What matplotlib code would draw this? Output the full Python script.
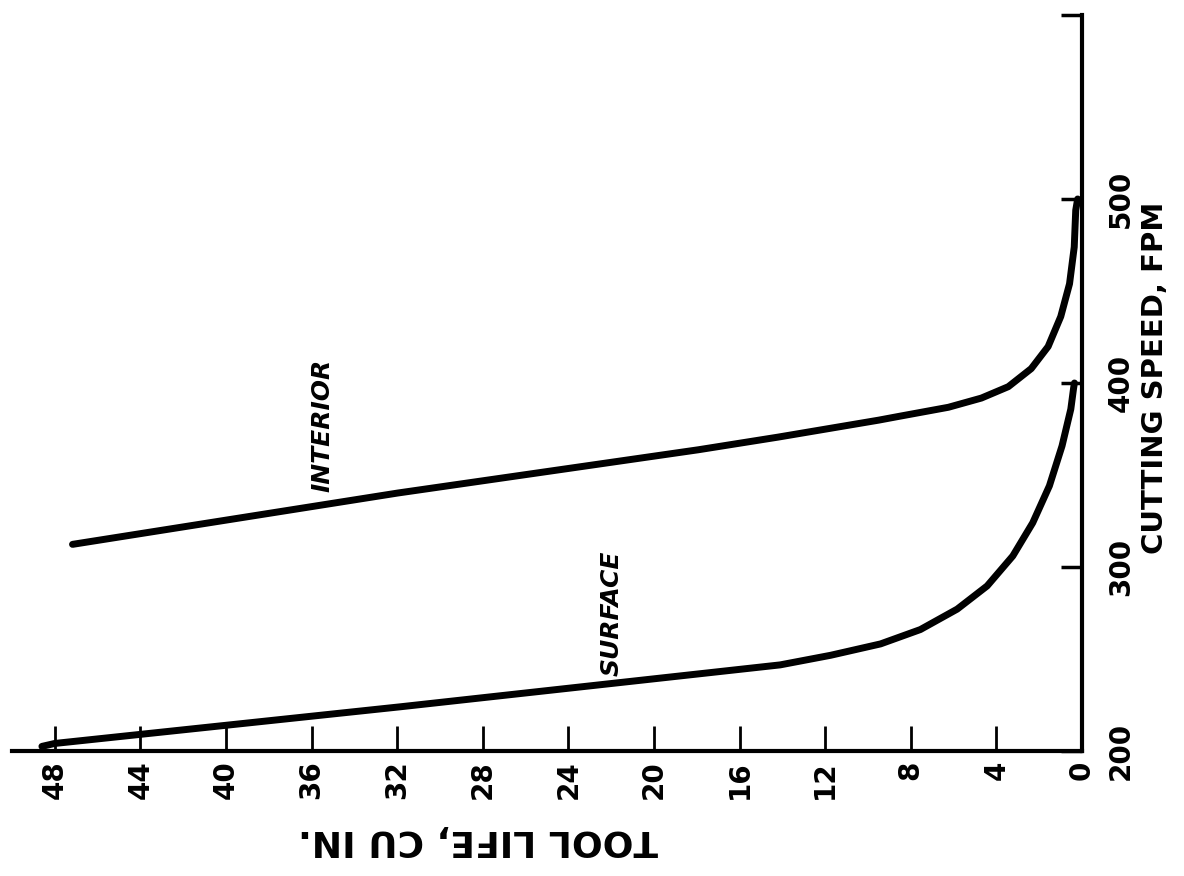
"""
Tool life vs cutting speed, surface and interior material.
Drawn turned on its side: tool life runs right-to-left along the bottom,
cutting speed runs up the right-hand side.
"""

import matplotlib.pyplot as plt

# Tool life (cu in.) and cutting speed (fpm)
surface_life = [48.6, 48.0, 31.87, 17.84, 14.1, 11.75, 9.41, 7.55, 5.83, 4.43,
                3.23, 2.30, 1.52, 0.93, 0.52, 0.39, 0.35]
surface_speed = [202.5, 204.1, 224, 242, 246.8, 252, 258.2, 266, 277.1, 289.7,
                 306, 324, 344.1, 365.8, 385.8, 397.2, 400]

interior_life = [47.17, 31.97, 17.93, 14.19, 9.5, 8.58, 6.24, 4.7, 3.44, 2.37,
                 1.58, 0.99, 0.58, 0.36, 0.29, 0.2]
interior_speed = [312.3, 340.2, 363.7, 370.6, 379.8, 381.8, 386.8, 391.8, 398,
                  407.8, 419.8, 436.1, 453.9, 473.9, 493.9, 500]

life_ticks = [0, 4, 8, 12, 16, 20, 24, 28, 32, 36, 40, 44, 48]
speed_ticks = [200, 300, 400, 500, 600]
speed_tick_labels = ['200', '300', '400', '500', '']


def main():
    fig = plt.figure(figsize=(11.84, 8.76), dpi=100)
    ax = fig.add_axes([0.0101, 0.1427, 0.9037, 0.8402])

    ax.plot(surface_life, surface_speed, color='black', linewidth=5,
            solid_capstyle='round', solid_joinstyle='round')
    ax.plot(interior_life, interior_speed, color='black', linewidth=5,
            solid_capstyle='round', solid_joinstyle='round')

    # curve names, written along the speed direction
    ax.text(35.5, 377, 'INTERIOR', rotation=90, ha='center', va='center',
            fontsize=18, fontweight='bold', fontstyle='italic')
    ax.text(22.0, 275, 'SURFACE', rotation=90, ha='center', va='center',
            fontsize=18, fontweight='bold', fontstyle='italic')

    ax.set_xlim(50, 0)
    ax.set_ylim(200, 600)

    # only the bottom and right axes are drawn
    ax.spines['left'].set_visible(False)
    ax.spines['top'].set_visible(False)
    ax.spines['bottom'].set_linewidth(3)
    ax.spines['right'].set_linewidth(3)

    ax.set_xticks(life_ticks)
    ax.set_xticklabels([str(v) for v in life_ticks])
    ax.tick_params(axis='x', direction='in', length=18, width=2, pad=7,
                   labelrotation=90, labelsize=20)
    for lab in ax.get_xticklabels():
        lab.set_fontweight('bold')

    ax.yaxis.tick_right()
    ax.set_yticks(speed_ticks)
    ax.set_yticklabels(speed_tick_labels)
    ax.tick_params(axis='y', direction='in', length=15, width=2.5, pad=18,
                   labelsize=20)
    for lab in ax.get_yticklabels():
        lab.set_rotation(90)
        lab.set_va('center')
        lab.set_fontweight('bold')

    ax.set_xlabel('TOOL LIFE, CU IN.', fontsize=26, fontweight='bold',
                  rotation=180, va='center', ha='center')
    ax.xaxis.set_label_coords(0.4355, -0.121)

    ax.yaxis.set_label_position('right')
    ax.set_ylabel('CUTTING SPEED, FPM', fontsize=21, fontweight='bold',
                  rotation=90, va='center', ha='center')
    ax.yaxis.set_label_coords(1.068, 0.507)

    fig.savefig('out.png', dpi=100)
    plt.close(fig)


if __name__ == "__main__":
    main()
